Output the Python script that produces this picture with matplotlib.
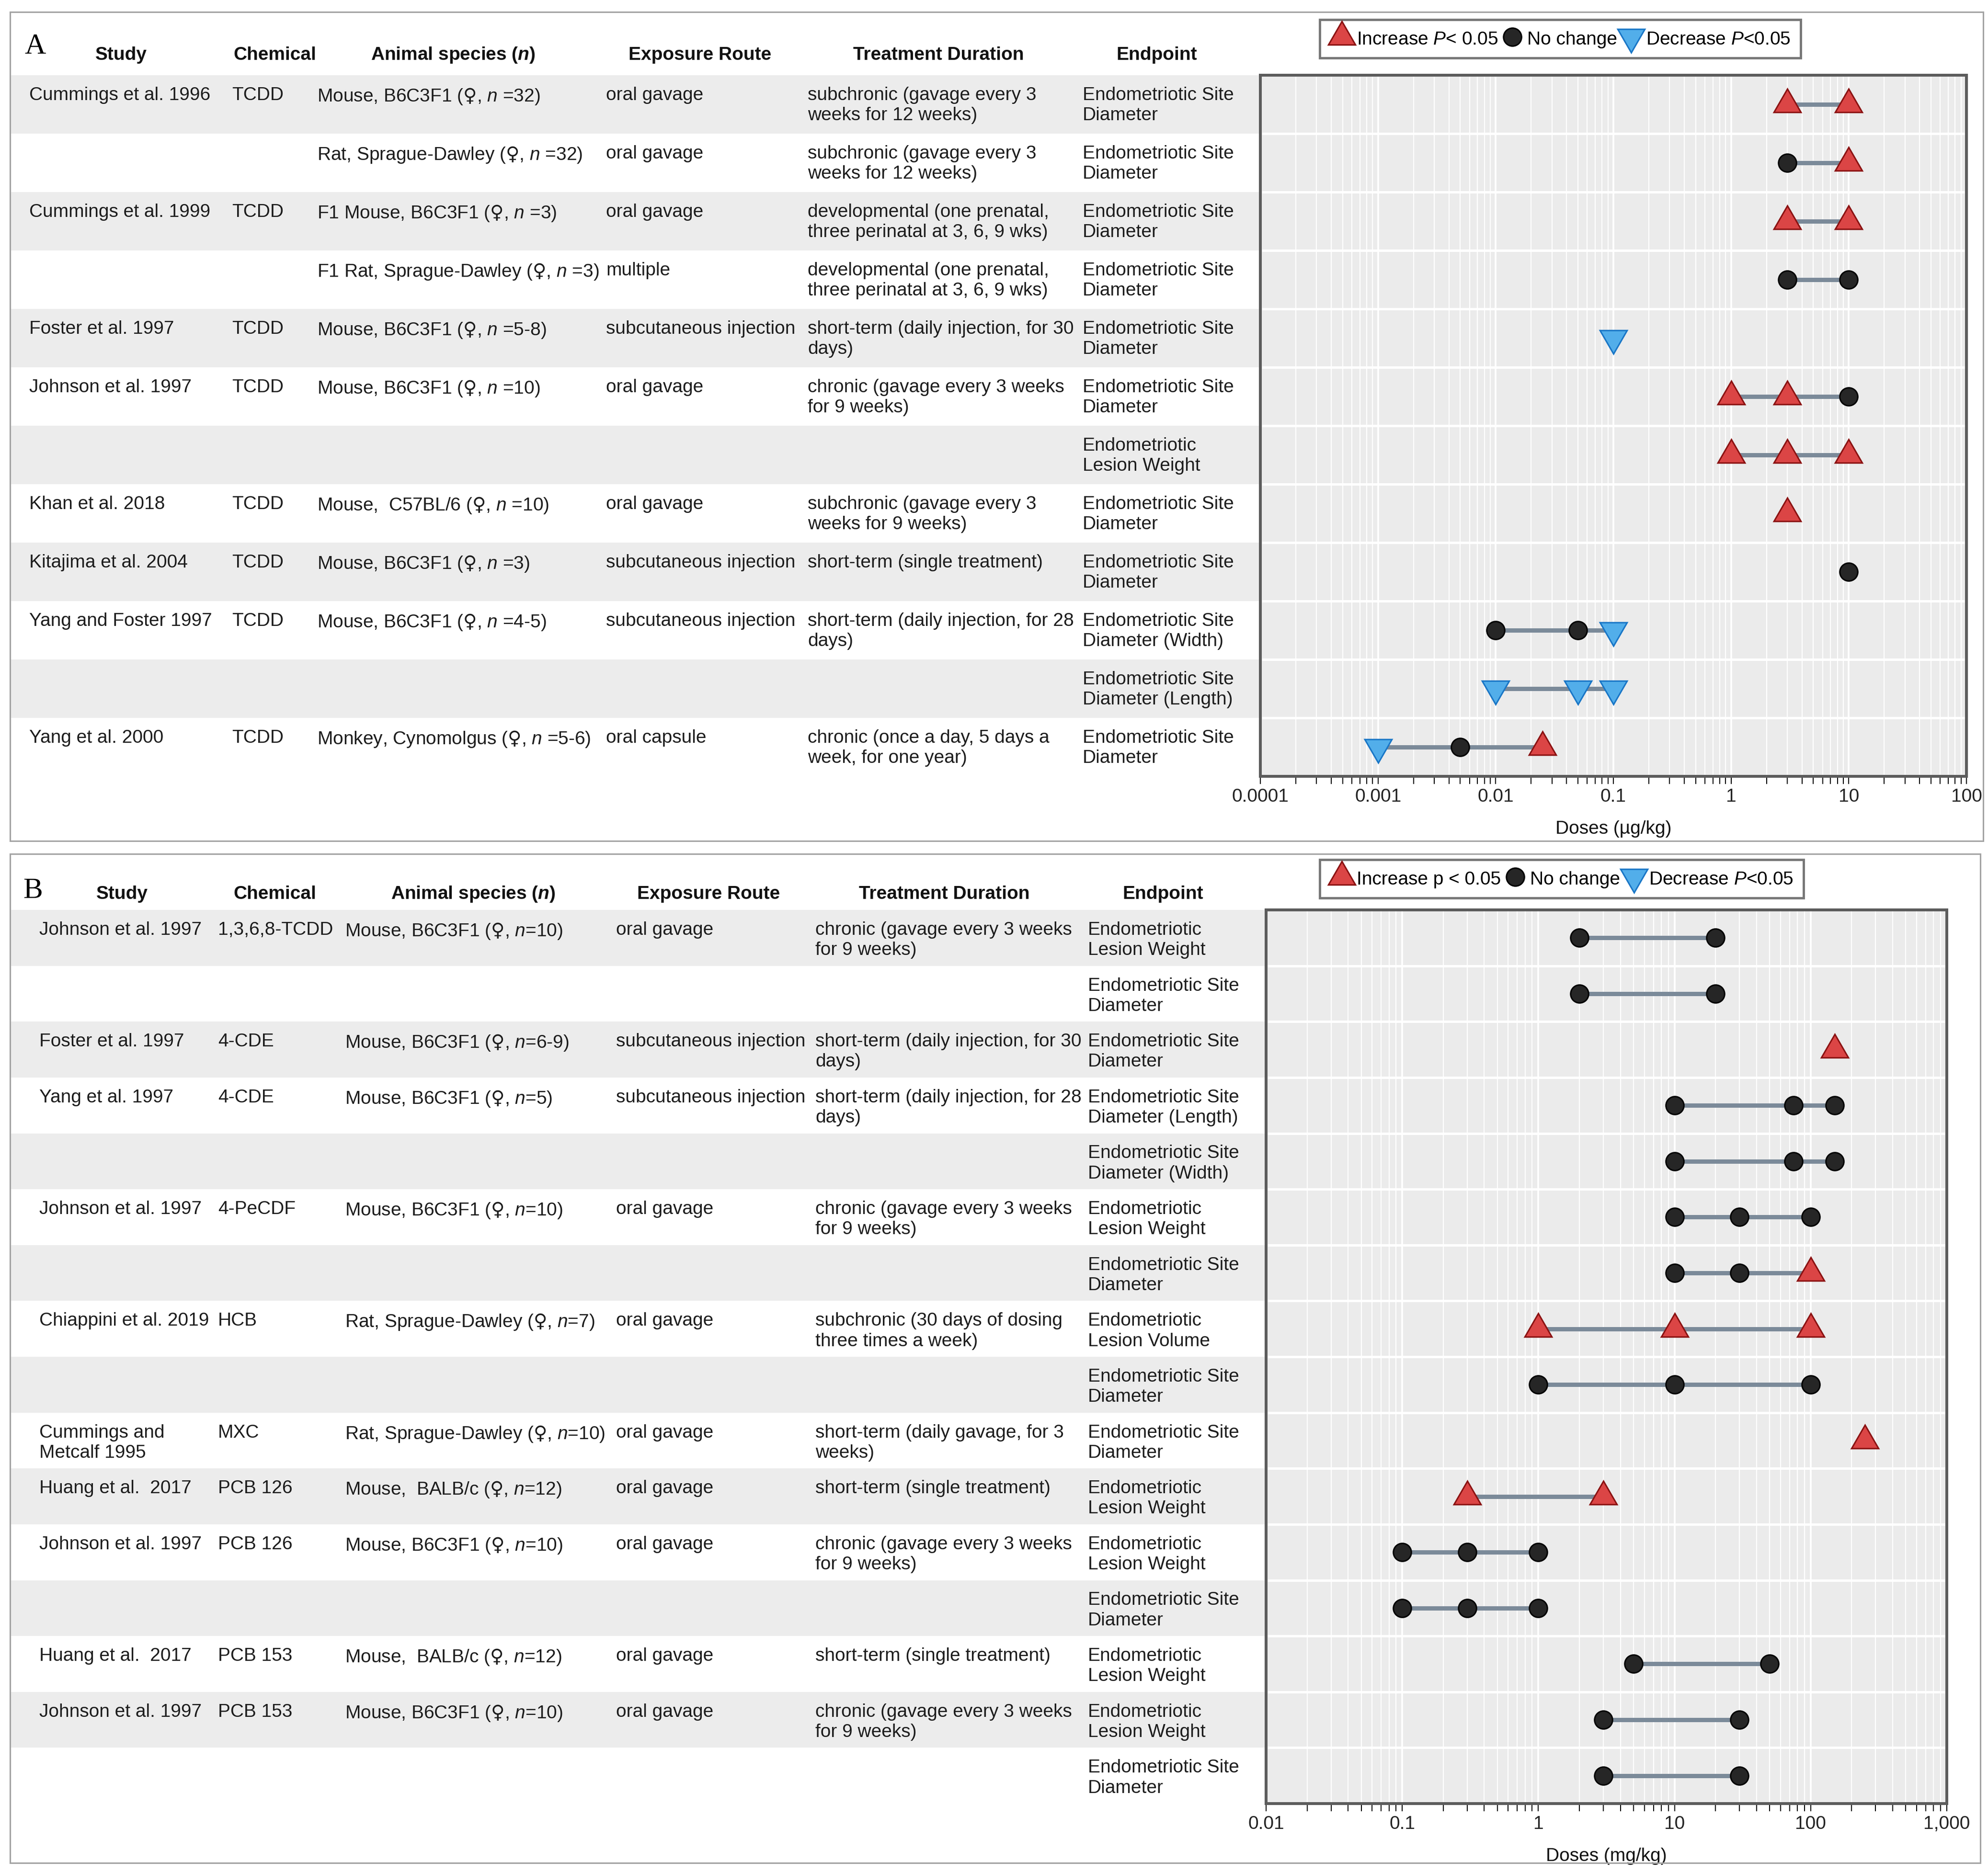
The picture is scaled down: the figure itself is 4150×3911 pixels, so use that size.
import matplotlib
matplotlib.use("Agg")
import matplotlib.pyplot as plt
from matplotlib.lines import Line2D
from matplotlib.patches import Rectangle
from matplotlib.ticker import FixedLocator, LogLocator, NullFormatter
import numpy as np

# ---------------- data: panel A (TCDD, ug/kg) ----------------
a_study = ["Cummings et al. 1996", "", "Cummings et al. 1999", "", "Foster et al. 1997",
           "Johnson et al. 1997", "", "Khan et al. 2018", "Kitajima et al. 2004",
           "Yang and Foster 1997", "", "Yang et al. 2000"]
a_chemical = ["TCDD", "", "TCDD", "", "TCDD", "TCDD", "", "TCDD", "TCDD", "TCDD", "", "TCDD"]
a_species = ["Mouse, B6C3F1 ($\\mathsf{♀}$, $\\mathit{n}$ =32)",
             "Rat, Sprague-Dawley ($\\mathsf{♀}$, $\\mathit{n}$ =32)",
             "F1 Mouse, B6C3F1 ($\\mathsf{♀}$, $\\mathit{n}$ =3)",
             "F1 Rat, Sprague-Dawley ($\\mathsf{♀}$, $\\mathit{n}$ =3)",
             "Mouse, B6C3F1 ($\\mathsf{♀}$, $\\mathit{n}$ =5-8)",
             "Mouse, B6C3F1 ($\\mathsf{♀}$, $\\mathit{n}$ =10)", "",
             "Mouse,  C57BL/6 ($\\mathsf{♀}$, $\\mathit{n}$ =10)",
             "Mouse, B6C3F1 ($\\mathsf{♀}$, $\\mathit{n}$ =3)",
             "Mouse, B6C3F1 ($\\mathsf{♀}$, $\\mathit{n}$ =4-5)", "",
             "Monkey, Cynomolgus ($\\mathsf{♀}$, $\\mathit{n}$ =5-6)"]
a_route = ["oral gavage", "oral gavage", "oral gavage", "multiple", "subcutaneous injection",
           "oral gavage", "", "oral gavage", "subcutaneous injection", "subcutaneous injection",
           "", "oral capsule"]
a_duration = ["subchronic (gavage every 3\nweeks for 12 weeks)",
              "subchronic (gavage every 3\nweeks for 12 weeks)",
              "developmental (one prenatal,\nthree perinatal at 3, 6, 9 wks)",
              "developmental (one prenatal,\nthree perinatal at 3, 6, 9 wks)",
              "short-term (daily injection, for 30\ndays)",
              "chronic (gavage every 3 weeks\nfor 9 weeks)", "",
              "subchronic (gavage every 3\nweeks for 9 weeks)",
              "short-term (single treatment)",
              "short-term (daily injection, for 28\ndays)", "",
              "chronic (once a day, 5 days a\nweek, for one year)"]
a_endpoint = ["Endometriotic Site\nDiameter"] * 6 + ["Endometriotic\nLesion Weight",
              "Endometriotic Site\nDiameter", "Endometriotic Site\nDiameter",
              "Endometriotic Site\nDiameter (Width)", "Endometriotic Site\nDiameter (Length)",
              "Endometriotic Site\nDiameter"]
a_doses = [[3, 10], [3, 10], [3, 10], [3, 10], [0.1], [1, 3, 10], [1, 3, 10], [3], [10],
           [0.01, 0.05, 0.1], [0.01, 0.05, 0.1], [0.001, 0.005, 0.025]]
a_effects = [["inc", "inc"], ["nc", "inc"], ["inc", "inc"], ["nc", "nc"], ["dec"],
             ["inc", "inc", "nc"], ["inc", "inc", "inc"], ["inc"], ["nc"],
             ["nc", "nc", "dec"], ["dec", "dec", "dec"], ["dec", "nc", "inc"]]
a_ticks = [1e-4, 1e-3, 1e-2, 1e-1, 1, 10, 100]
a_ticklabels = ["0.0001", "0.001", "0.01", "0.1", "1", "10", "100"]

# ---------------- data: panel B (other chemicals, mg/kg) ----------------
b_study = ["Johnson et al. 1997", "", "Foster et al. 1997", "Yang et al. 1997", "",
           "Johnson et al. 1997", "", "Chiappini et al. 2019", "", "Cummings and\nMetcalf 1995",
           "Huang et al.  2017", "Johnson et al. 1997", "", "Huang et al.  2017",
           "Johnson et al. 1997", ""]
b_chemical = ["1,3,6,8-TCDD", "", "4-CDE", "4-CDE", "", "4-PeCDF", "", "HCB", "", "MXC",
              "PCB 126", "PCB 126", "", "PCB 153", "PCB 153", ""]
b_species = ["Mouse, B6C3F1 ($\\mathsf{♀}$, $\\mathit{n}$=10)", "",
             "Mouse, B6C3F1 ($\\mathsf{♀}$, $\\mathit{n}$=6-9)",
             "Mouse, B6C3F1 ($\\mathsf{♀}$, $\\mathit{n}$=5)", "",
             "Mouse, B6C3F1 ($\\mathsf{♀}$, $\\mathit{n}$=10)", "",
             "Rat, Sprague-Dawley ($\\mathsf{♀}$, $\\mathit{n}$=7)", "",
             "Rat, Sprague-Dawley ($\\mathsf{♀}$, $\\mathit{n}$=10)",
             "Mouse,  BALB/c ($\\mathsf{♀}$, $\\mathit{n}$=12)",
             "Mouse, B6C3F1 ($\\mathsf{♀}$, $\\mathit{n}$=10)", "",
             "Mouse,  BALB/c ($\\mathsf{♀}$, $\\mathit{n}$=12)",
             "Mouse, B6C3F1 ($\\mathsf{♀}$, $\\mathit{n}$=10)", ""]
b_route = ["oral gavage", "", "subcutaneous injection", "subcutaneous injection", "",
           "oral gavage", "", "oral gavage", "", "oral gavage", "oral gavage", "oral gavage",
           "", "oral gavage", "oral gavage", ""]
b_duration = ["chronic (gavage every 3 weeks\nfor 9 weeks)", "",
              "short-term (daily injection, for 30\ndays)",
              "short-term (daily injection, for 28\ndays)", "",
              "chronic (gavage every 3 weeks\nfor 9 weeks)", "",
              "subchronic (30 days of dosing\nthree times a week)", "",
              "short-term (daily gavage, for 3\nweeks)", "short-term (single treatment)",
              "chronic (gavage every 3 weeks\nfor 9 weeks)", "", "short-term (single treatment)",
              "chronic (gavage every 3 weeks\nfor 9 weeks)", ""]
b_endpoint = ["Endometriotic\nLesion Weight", "Endometriotic Site\nDiameter",
              "Endometriotic Site\nDiameter", "Endometriotic Site\nDiameter (Length)",
              "Endometriotic Site\nDiameter (Width)", "Endometriotic\nLesion Weight",
              "Endometriotic Site\nDiameter", "Endometriotic\nLesion Volume",
              "Endometriotic Site\nDiameter", "Endometriotic Site\nDiameter",
              "Endometriotic\nLesion Weight", "Endometriotic\nLesion Weight",
              "Endometriotic Site\nDiameter", "Endometriotic\nLesion Weight",
              "Endometriotic\nLesion Weight", "Endometriotic Site\nDiameter"]
b_doses = [[2, 20], [2, 20], [150], [10, 75, 150], [10, 75, 150], [10, 30, 100], [10, 30, 100],
           [1, 10, 100], [1, 10, 100], [250], [0.3, 3], [0.1, 0.3, 1], [0.1, 0.3, 1], [5, 50],
           [3, 30], [3, 30]]
b_effects = [["nc", "nc"], ["nc", "nc"], ["inc"], ["nc", "nc", "nc"], ["nc", "nc", "nc"],
             ["nc", "nc", "nc"], ["nc", "nc", "inc"], ["inc", "inc", "inc"], ["nc", "nc", "nc"],
             ["inc"], ["inc", "inc"], ["nc", "nc", "nc"], ["nc", "nc", "nc"], ["nc", "nc"],
             ["nc", "nc"], ["nc", "nc"]]
b_ticks = [0.01, 0.1, 1, 10, 100, 1000]
b_ticklabels = ["0.01", "0.1", "1", "10", "100", "1,000"]

# ---------------- styling ----------------
W, H, DPI = 4150, 3912, 100
FS = 28
plt.rcParams['font.family'] = ['Liberation Sans', 'DejaVu Sans']
plt.rcParams['mathtext.fontset'] = 'custom'
plt.rcParams['mathtext.rm'] = 'Liberation Sans'
plt.rcParams['mathtext.it'] = 'Liberation Sans:italic'
plt.rcParams['mathtext.bf'] = 'Liberation Sans:bold'
plt.rcParams['mathtext.sf'] = 'DejaVu Sans'
if 'mathtext.bfit' in plt.rcParams:
    plt.rcParams['mathtext.bfit'] = 'Liberation Sans:italic:bold'
    species_header = r'Animal species ($\mathbfit{n}$)'
else:
    species_header = r'Animal species ($\mathit{n}$)'
headers = ["Study", "Chemical", species_header, "Exposure Route", "Treatment Duration", "Endpoint"]

STYLE = {
    'inc': dict(marker=(3, 0, 0), ms=47, mfc='#db4545', mec='#8a1212'),
    'nc': dict(marker='o', ms=27, mfc='#262626', mec='#050505'),
    'dec': dict(marker=(3, 0, 180), ms=47, mfc='#52aeea', mec='#1976c6'),
}


def box(l, t, r, b):
    return [l / W, 1 - b / H, (r - l) / W, (b - t) / H]


def draw_panel(fig, columns, doses, effects, col_x, head_x, head_y, tab_l, plot_l, plot_r,
               top, bottom, xlim, ticks, ticklabels, xlabel, leg_labels, leg_xy, letter,
               letter_xy, border):
    n = len(doses)
    row_px = (bottom - top) / n

    # table part
    tab = fig.add_axes(box(tab_l, top, plot_l, bottom))
    tab.set_xlim(tab_l, plot_l)
    tab.set_ylim(n, 0)
    tab.axis('off')
    for i in range(n):
        if i % 2 == 0:
            tab.axhspan(i, i + 1, color='#ececec', lw=0)
        for x, col in zip(col_x, columns):
            if col[i]:
                tab.text(x, i + 23 / row_px, col[i], ha='left', va='top', fontsize=FS,
                         linespacing=1.22, color='#1c1c1c')
    for x, h in zip(head_x, headers):
        fig.text(x / W, 1 - head_y / H, h, ha='center', va='center', fontsize=FS,
                 fontweight='bold', color='#111111')
    fig.text(letter_xy[0] / W, 1 - letter_xy[1] / H, letter, ha='center', va='center',
             fontsize=44, family='Liberation Serif')

    # plot part
    ax = fig.add_axes(box(plot_l, top, plot_r, bottom))
    ax.set_facecolor('#ebebeb')
    ax.set_xscale('log')
    ax.set_xlim(*xlim)
    ax.set_ylim(n, 0)
    ax.set_yticks([])
    ax.xaxis.set_major_locator(FixedLocator(ticks))
    ax.set_xticklabels(ticklabels)
    ax.xaxis.set_minor_locator(LogLocator(base=10, subs=np.arange(2, 10), numticks=100))
    ax.xaxis.set_minor_formatter(NullFormatter())
    ax.set_axisbelow(True)
    ax.grid(axis='x', which='major', color='white', lw=2.6)
    ax.grid(axis='x', which='minor', color='white', lw=1.6)
    for i in range(1, n):
        ax.axhline(i, color='white', lw=3.6, zorder=0.6)
    ax.tick_params(axis='x', which='both', direction='out', length=11.5, width=1.5,
                   colors='black', labelsize=FS, pad=6, labelcolor='#222222')
    for sp in ax.spines.values():
        sp.set_color('#5c5c5c')
        sp.set_linewidth(4.3)
    ax.set_xlabel(xlabel, fontsize=FS, labelpad=22, color='#111111')

    for i, (d, e) in enumerate(zip(doses, effects)):
        y = i + 0.5
        if len(d) > 1:
            ax.plot(d, [y] * len(d), color='#7b8a99', lw=6.5, solid_capstyle='butt', zorder=2)
        for x, k in zip(d, e):
            ax.plot([x], [y], ls='none', mew=2.2, zorder=3, clip_on=False, **STYLE[k])

    handles = [Line2D([], [], ls='none', mew=2.2, **STYLE[k]) for k in ('inc', 'nc', 'dec')]
    leg = fig.legend(handles, leg_labels, loc='center',
                     bbox_to_anchor=(leg_xy[0] / W, 1 - leg_xy[1] / H), ncol=3, fontsize=FS,
                     frameon=True, fancybox=False, edgecolor='#555555', handlelength=1.3,
                     handleheight=0.9, handletextpad=0.15, columnspacing=0.1, borderpad=0.55,
                     borderaxespad=0)
    leg.get_frame().set_linewidth(3.5)

    l, t, r, b = border
    fig.add_artist(Rectangle((l / W, 1 - b / H), (r - l) / W, (b - t) / H,
                             transform=fig.transFigure, fill=False, ec='#a3a3a3', lw=2.2))


fig = plt.figure(figsize=(W / DPI, H / DPI), dpi=DPI)

draw_panel(fig, [a_study, a_chemical, a_species, a_route, a_duration, a_endpoint],
           a_doses, a_effects,
           col_x=[61, 484, 662, 1265, 1686, 2260],
           head_x=[253, 574, 946, 1461, 1959, 2415], head_y=115,
           tab_l=21, plot_l=2631, plot_r=4105, top=158, bottom=1622,
           xlim=(1e-4, 100), ticks=a_ticks, ticklabels=a_ticklabels,
           xlabel='Doses (µg/kg)',
           leg_labels=[r'Increase $P$< 0.05', 'No change', r'Decrease $P$<0.05'],
           leg_xy=(3257, 82), letter='A', letter_xy=(74, 97), border=(21, 26, 4140, 1757))

draw_panel(fig, [b_study, b_chemical, b_species, b_route, b_duration, b_endpoint],
           b_doses, b_effects,
           col_x=[82, 455, 720, 1286, 1702, 2271],
           head_x=[255, 574, 988, 1479, 1971, 2428], head_y=1867,
           tab_l=21, plot_l=2643, plot_r=4064, top=1901, bottom=3767,
           xlim=(0.01, 1000), ticks=b_ticks, ticklabels=b_ticklabels,
           xlabel='Doses (mg/kg)',
           leg_labels=['Increase p < 0.05', 'No change', r'Decrease $P$<0.05'],
           leg_xy=(3260, 1836), letter='B', letter_xy=(69, 1860), border=(21, 1784, 4134, 3891))

fig.savefig('out.png', dpi=DPI, facecolor='white')
